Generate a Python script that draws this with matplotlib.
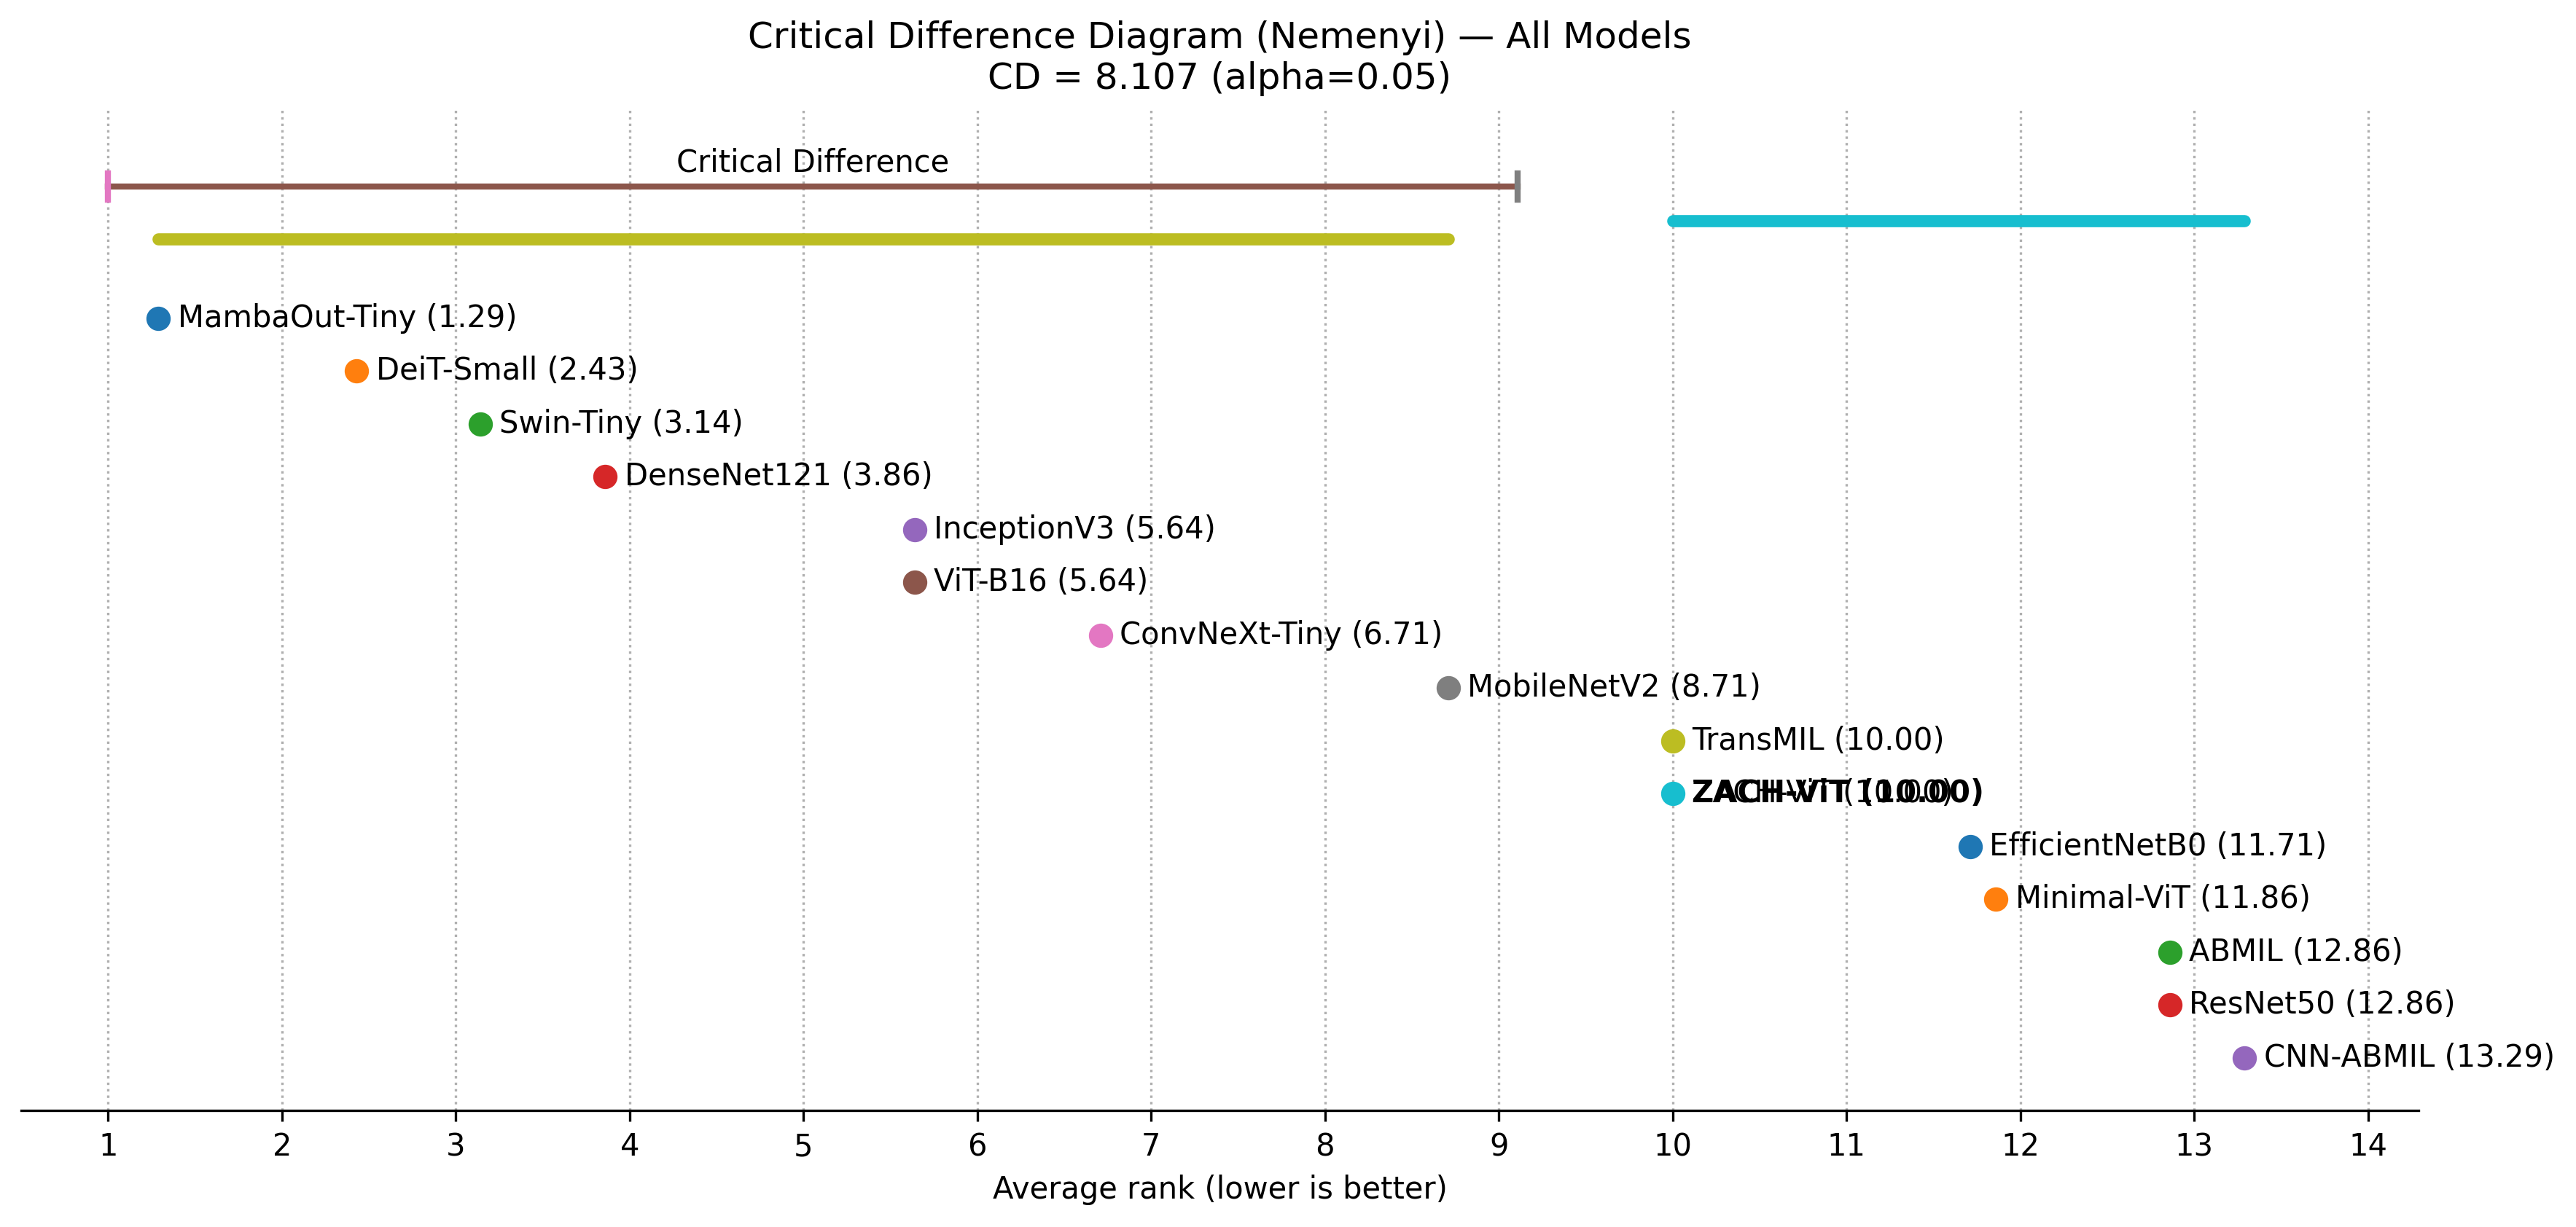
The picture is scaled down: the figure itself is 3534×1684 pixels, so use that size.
import matplotlib
matplotlib.use("Agg")
import matplotlib.pyplot as plt

models = ["MambaOut-Tiny", "DeiT-Small", "Swin-Tiny", "DenseNet121", "InceptionV3",
          "ViT-B16", "ConvNeXt-Tiny", "MobileNetV2", "TransMIL", "ZACH-ViT",
          "EfficientNetB0", "Minimal-ViT", "ABMIL", "ResNet50", "CNN-ABMIL"]
ranks = [1.29, 2.43, 3.14, 3.86, 5.64, 5.64, 6.71, 8.71, 10.00, 10.00,
         11.71, 11.86, 12.86, 12.86, 13.29]
highlight = "ZACH-ViT"
cd_value = 8.107
alpha = 0.05
cliques = [(1.29, 8.71), (10.00, 13.29)]
clique_y = [-0.5, -0.85]

palette = plt.rcParams['axes.prop_cycle'].by_key()['color']

fig = plt.figure(figsize=(3534/300, 1684/300), dpi=300)
ax = fig.add_axes([29/3534, 1 - 1524/1684, (3318-29)/3534, (1524-147)/1684])

ci = 0
for i, (m, r) in enumerate(zip(models, ranks)):
    y = i + 1
    ax.plot([r], [y], 'o', ms=7, color=palette[ci % 10])
    ci += 1
    ax.text(r + 0.11, y, f"{m} ({r:.2f})", va='center', ha='left', fontsize=10)
    if m == highlight:
        ax.text(r + 0.11, y, f"{m} ({r:.2f})", va='center', ha='left', fontsize=10,
                fontweight='bold')

cd_y = -1.5
ax.plot([1, 1 + cd_value], [cd_y, cd_y], lw=2, color=palette[ci % 10]); ci += 1
ax.plot([1, 1], [cd_y - 0.25, cd_y + 0.25], lw=2, color=palette[ci % 10]); ci += 1
ax.plot([1 + cd_value, 1 + cd_value], [cd_y - 0.25, cd_y + 0.25], lw=2,
        color=palette[ci % 10]); ci += 1
ax.text((1 + 1 + cd_value) / 2, cd_y - 0.15, "Critical Difference", ha='center',
        va='bottom', fontsize=10)

for (a, b), yy in zip(cliques, clique_y):
    ax.plot([a, b], [yy, yy], lw=4, color=palette[ci % 10], solid_capstyle='round')
    ci += 1

ax.set_xlim(0.5, max(ranks) + 1)
ax.set_ylim(len(models) + 1, -3)
ax.set_xticks(range(1, 15))
ax.set_yticks([])
ax.grid(axis='x', linestyle=':', color='#b0b0b0', lw=0.8)
ax.set_axisbelow(True)
for s in ['left', 'top', 'right']:
    ax.spines[s].set_visible(False)
ax.tick_params(axis='x', labelsize=10)
ax.set_xlabel("Average rank (lower is better)", fontsize=10)
ax.set_title(f"Critical Difference Diagram (Nemenyi) — All Models\nCD = {cd_value:.3f} (alpha={alpha})",
             fontsize=12)

fig.savefig("out.png", dpi=300)
